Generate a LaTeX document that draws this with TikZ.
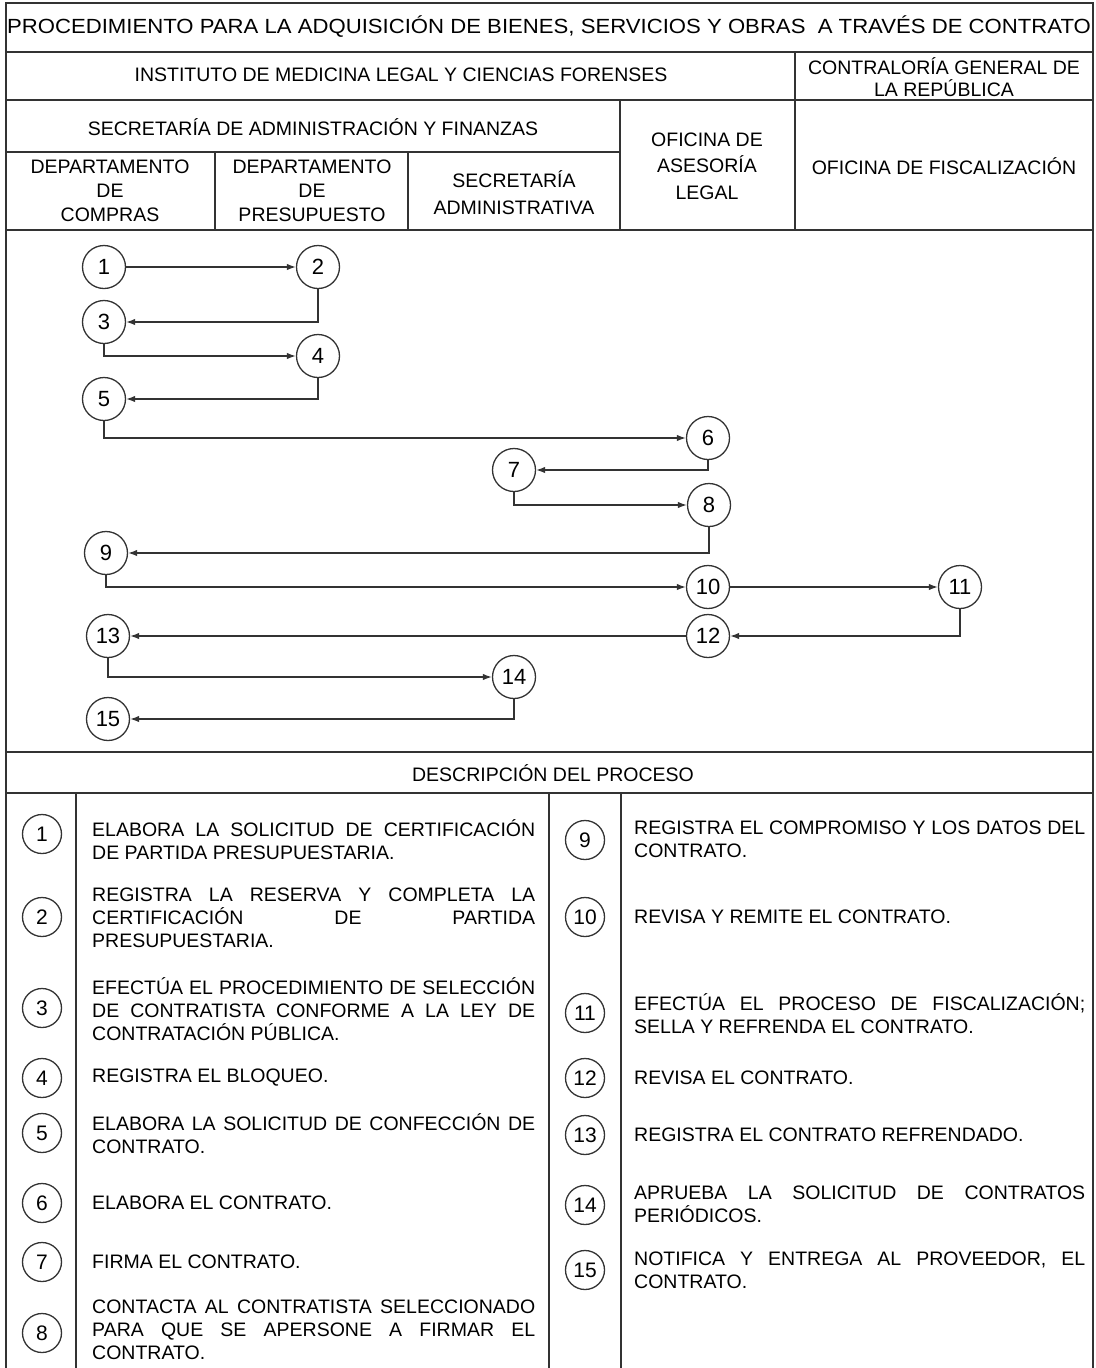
\documentclass[tikz,border=0pt]{standalone}
\usepackage{fontspec}
\setmainfont{Liberation Sans}
\usetikzlibrary{arrows.meta,positioning}
\newcommand{\jl}[2][443pt]{\makebox[#1][s]{#2}\\}

\begin{document}
\begin{tikzpicture}[x=1pt, y=-1pt,
    marco/.style={line width=1.4pt, black!80},
    paso/.style={circle, draw, line width=1.3pt, black!80, text=black, minimum size=43pt, inner sep=0pt, font=\fontsize{22}{24}\selectfont},
    pasod/.style={paso, minimum size=39pt, font=\fontsize{21}{23}\selectfont},
    flujo/.style={line width=1.4pt, black!80, -{Latex[length=9pt,width=6.5pt]}},
    encab/.style={align=center, inner sep=0pt, font=\fontsize{19.5}{24}\selectfont},
    desc/.style={anchor=west, align=left, inner sep=0pt, font=\fontsize{19.5}{23}\selectfont}]
   \useasboundingbox (0,0) rectangle (1095,1368);
   % table lines
   \draw[marco] (6,1368) -- (6,3) -- (1093,3) -- (1093,1368);
   \draw[marco] (6,52) -- (1093,52);
   \draw[marco] (6,100) -- (1093,100);
   \draw[marco] (6,152) -- (620,152);
   \draw[marco] (6,230) -- (1093,230);
   \draw[marco] (6,752) -- (1093,752);
   \draw[marco] (6,793) -- (1093,793);
   \draw[marco] (795,52) -- (795,230);
   \draw[marco] (620,100) -- (620,230);
   \draw[marco] (215,152) -- (215,230);
   \draw[marco] (408,152) -- (408,230);
   \draw[marco] (76,793) -- (76,1368);
   \draw[marco] (549,793) -- (549,1368);
   \draw[marco] (621,793) -- (621,1368);
   % headings
   \node[encab, font=\fontsize{20.5}{24}\selectfont] (titulo) at (549,27) {\scalebox{1.08}[1]{PROCEDIMIENTO PARA LA ADQUISICIÓN DE BIENES, SERVICIOS Y OBRAS\ \ A TRAVÉS DE CONTRATO}};
   \node[encab] (instituto) at (401,75) {INSTITUTO DE MEDICINA LEGAL Y CIENCIAS FORENSES};
   \node[encab, font=\fontsize{19.5}{22}\selectfont] (contraloria) at (944,77) {CONTRALORÍA GENERAL DE\\LA REPÚBLICA};
   \node[encab] (secretaria) at (313,127) {SECRETARÍA DE ADMINISTRACIÓN Y FINANZAS};
   \node[encab, font=\fontsize{19.5}{26.5}\selectfont] (asesoria) at (707,166) {OFICINA DE\\ASESORÍA\\LEGAL};
   \node[encab] (fiscal) at (944,166) {OFICINA DE FISCALIZACIÓN};
   \node[encab] (compras) at (110,191) {DEPARTAMENTO\\DE\\COMPRAS};
   \node[encab] (presupuesto) at (312,191) {DEPARTAMENTO\\DE\\PRESUPUESTO};
   \node[encab, font=\fontsize{19.5}{27}\selectfont] (secadmin) at (514,193) {SECRETARÍA\\ADMINISTRATIVA};
   \node[encab] (descrip) at (553,773) {DESCRIPCIÓN DEL PROCESO};
   % flow
   \node[paso] (c1)  at (104,267) {1};
   \node[paso] (c2)  at (318,267) {2};
   \node[paso] (c3)  at (104,322) {3};
   \node[paso] (c4)  at (318,356) {4};
   \node[paso] (c5)  at (104,399) {5};
   \node[paso] (c6)  at (708,438) {6};
   \node[paso] (c7)  at (514,470) {7};
   \node[paso] (c8)  at (709,505) {8};
   \node[paso] (c9)  at (106,553) {9};
   \node[paso] (c10) at (708,587) {10};
   \node[paso] (c11) at (960,587) {11};
   \node[paso] (c12) at (708,636) {12};
   \node[paso] (c13) at (108,636) {13};
   \node[paso] (c14) at (514,677) {14};
   \node[paso] (c15) at (108,719) {15};
   \draw[flujo] (c1) -- (c2);
   \draw[flujo] (c2.south) |- (c3.east);
   \draw[flujo] (c3.south) |- (c4.west);
   \draw[flujo] (c4.south) |- (c5.east);
   \draw[flujo] (c5.south) |- (c6.west);
   \draw[flujo] (c6.south) |- (c7.east);
   \draw[flujo] (c7.south) |- (c8.west);
   \draw[flujo] (c8.south) |- (c9.east);
   \draw[flujo] (c9.south) |- (c10.west);
   \draw[flujo] (c10) -- (c11);
   \draw[flujo] (c11.south) |- (c12.east);
   \draw[flujo] (c12) -- (c13);
   \draw[flujo] (c13.south) |- (c14.west);
   \draw[flujo] (c14.south) |- (c15.east);
   % description
   \node[pasod] (d1) at (42,834) {1};
   \node[pasod] (d2) at (42,917) {2};
   \node[pasod] (d3) at (42,1008) {3};
   \node[pasod] (d4) at (42,1078) {4};
   \node[pasod] (d5) at (42,1133) {5};
   \node[pasod] (d6) at (42,1203) {6};
   \node[pasod] (d7) at (42,1262) {7};
   \node[pasod] (d8) at (42,1333) {8};
   \node[pasod] (d9)  at (585,840) {9};
   \node[pasod] (d10) at (585,917) {10};
   \node[pasod] (d11) at (585,1013) {11};
   \node[pasod] (d12) at (585,1078) {12};
   \node[pasod] (d13) at (585,1135) {13};
   \node[pasod] (d14) at (585,1205) {14};
   \node[pasod] (d15) at (585,1270) {15};
   \node[desc] (t1) at (92,839.5) {\jl{ELABORA LA SOLICITUD DE CERTIFICACIÓN}DE PARTIDA PRESUPUESTARIA.};
   \node[desc] (t2) at (92,918) {\jl{REGISTRA LA RESERVA Y COMPLETA LA}\jl{CERTIFICACIÓN DE PARTIDA}PRESUPUESTARIA.};
   \node[desc] (t3) at (92,1009) {\jl{EFECTÚA EL PROCEDIMIENTO DE SELECCIÓN}\jl{DE CONTRATISTA CONFORME A LA LEY DE}CONTRATACIÓN PÚBLICA.};
   \node[desc] (t4) at (92,1078) {REGISTRA EL BLOQUEO.};
   \node[desc] (t5) at (92,1133.5) {\jl{ELABORA LA SOLICITUD DE CONFECCIÓN DE}CONTRATO.};
   \node[desc] (t6) at (92,1203) {ELABORA EL CONTRATO.};
   \node[desc] (t7) at (92,1262) {FIRMA EL CONTRATO.};
   \node[desc] (t8) at (92,1330) {\jl{CONTACTA AL CONTRATISTA SELECCIONADO}\jl{PARA QUE SE APERSONE A FIRMAR EL}CONTRATO.};
   \node[desc] (t9)  at (634,839.5) {\jl[451pt]{REGISTRA EL COMPROMISO Y LOS DATOS DEL}CONTRATO.};
   \node[desc] (t10) at (634,917) {REVISA Y REMITE EL CONTRATO.};
   \node[desc] (t11) at (634,1013.5) {\jl[451pt]{EFECTÚA EL PROCESO DE FISCALIZACIÓN;}SELLA Y REFRENDA EL CONTRATO.};
   \node[desc] (t12) at (634,1078) {REVISA EL CONTRATO.};
   \node[desc] (t13) at (634,1135) {REGISTRA EL CONTRATO REFRENDADO.};
   \node[desc] (t14) at (634,1204.5) {\jl[451pt]{APRUEBA LA SOLICITUD DE CONTRATOS}PERIÓDICOS.};
   \node[desc] (t15) at (634,1270.5) {\jl[451pt]{NOTIFICA Y ENTREGA AL PROVEEDOR, EL}CONTRATO.};
\end{tikzpicture}
\end{document}
